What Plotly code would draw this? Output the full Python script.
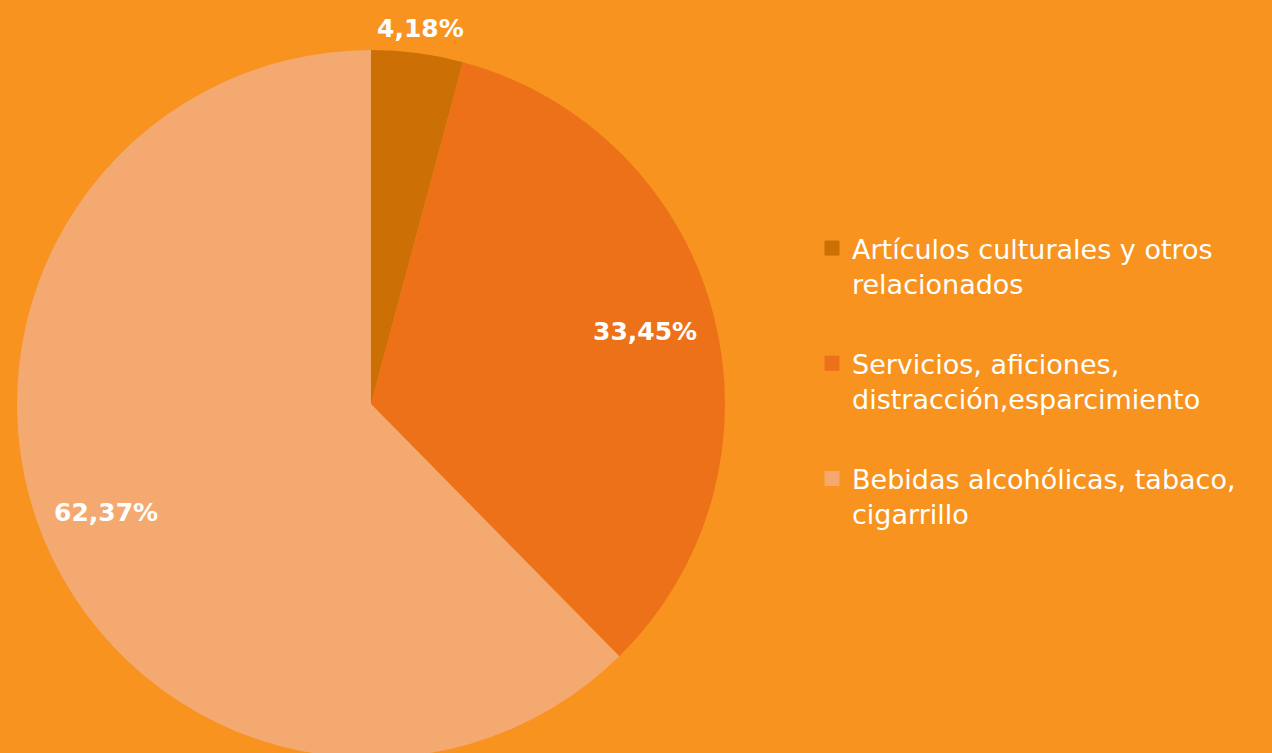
import math
import plotly.graph_objects as go

categories = [
    "Artículos culturales y otros<br>relacionados",
    "Servicios, aficiones,<br>distracción,esparcimiento",
    "Bebidas alcohólicas, tabaco,<br>cigarrillo",
]
values = [4.18, 33.45, 62.37]
value_labels = ["4,18%", "33,45%", "62,37%"]
colors = ["#CC6F05", "#EC7118", "#F4A971"]

# layout geometry (pixels)
W, H = 1272, 770
CX, CY, R = 371, 404, 354
label_radius = [1.07, 0.80, 0.81]

dom_x = [(CX - R) / W, (CX + R) / W]
dom_y = [1 - (CY + R) / H, 1 - (CY - R) / H]

fig = go.Figure(go.Pie(
    labels=categories,
    values=values,
    textinfo="none",
    marker=dict(colors=colors, line=dict(width=0)),
    sort=False,
    direction="clockwise",
    rotation=0,
    domain=dict(x=dom_x, y=dom_y),
    showlegend=False,
    hoverinfo="label+percent",
))

# legend entries (one per slice, same colours)
for i, (cat, col) in enumerate(zip(categories, colors)):
    fig.add_trace(go.Scatter(
        x=[None], y=[None], mode="markers", name=cat,
        legendgroup=f"g{i}",
        marker=dict(symbol="square", size=15, color=col),
        hoverinfo="skip",
    ))

total = sum(values)
cum = 0.0
for v, txt, rf in zip(values, value_labels, label_radius):
    mid = (cum + v / 2) / total * 2 * math.pi
    cum += v
    px = CX + rf * R * math.sin(mid)
    py = CY - rf * R * math.cos(mid)
    fig.add_annotation(
        x=px / W, y=1 - py / H, xref="paper", yref="paper",
        text=txt, showarrow=False,
        font=dict(family="DejaVu Sans", size=25, color="white", weight="bold"),
        xanchor="center", yanchor="middle",
    )

fig.update_layout(
    width=W, height=H,
    paper_bgcolor="#F7931E",
    plot_bgcolor="#F7931E",
    margin=dict(l=0, r=0, t=0, b=0),
    font=dict(family="DejaVu Sans", color="white"),
    xaxis=dict(visible=False),
    yaxis=dict(visible=False),
    legend=dict(
        x=812 / W, y=1 - 224 / H, xanchor="left", yanchor="top",
        font=dict(family="DejaVu Sans", size=27, color="white"),
        valign="top",
        traceorder="grouped",
        tracegroupgap=42,
        bgcolor="rgba(0,0,0,0)",
    ),
)

fig.write_html(
    "out.html",
    config={"displayModeBar": False},
    post_script="document.body.style.margin='0';document.body.style.overflow='hidden';"
                "document.documentElement.style.overflow='hidden';",
)
